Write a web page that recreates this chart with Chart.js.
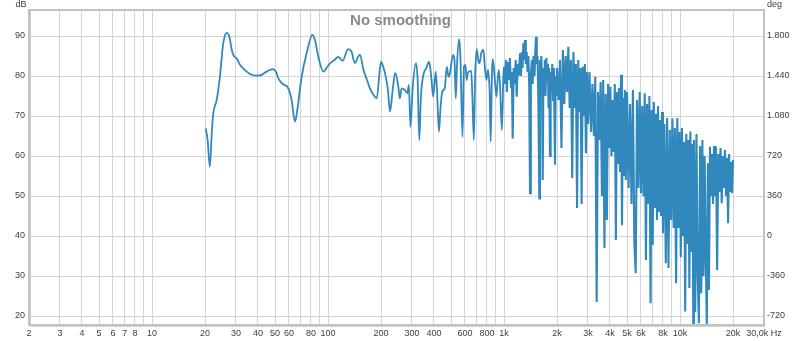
<!DOCTYPE html>
<html>
<head>
<meta charset="utf-8">
<script src="https://cdn.jsdelivr.net/npm/chart.js@4.4.1/dist/chart.umd.min.js"></script>
<style>
  html, body { margin: 0; padding: 0; background: #fff; }
  #wrap { width: 800px; height: 341px; }
</style>
</head>
<body>
<div id="wrap"><canvas id="fr-chart"></canvas></div>
<script>
// 20 Hz - 1 kHz, the smooth part of the response
let lowFreq = [
  20.2, 20.7, 21.3, 21.9, 22.3, 23.3, 24.3, 25.4, 26.6, 27.5,
  28.4, 29.0, 30.3, 31.6, 33.7, 36.0, 39.3, 42.0, 44.8, 48.5,
  50.6, 52.2, 55.3, 59.5, 62.1, 64.9, 66.9, 70.8, 75.6, 81.5,
  84.3, 88.1, 94.1, 99.1, 103, 110, 114, 121, 130, 136,
  142, 148, 152, 159, 166, 173, 181, 189, 200, 206,
  213, 219, 225, 233, 241, 251, 256, 262, 273, 282,
  288, 294, 303, 316, 323, 330, 337, 350, 361, 375,
  386, 396, 409, 416, 427, 436, 446, 460, 473, 484,
  493, 513, 523, 532, 541, 556, 565, 581, 592, 604,
  613, 622, 634, 651, 661, 674, 685, 700, 713, 726,
  742, 764, 778, 795, 811, 828, 840, 855, 864, 884,
  905, 920, 934, 950, 972, 990
];
let lowDb = [
  66.9, 64, 57.3, 66.5, 70.7, 74, 79.8, 88.2, 90.8, 89.8,
  86.5, 85.2, 84.4, 82.8, 81.5, 80.5, 80.1, 80.3, 81.1, 81.7,
  81.1, 79.4, 78, 76.9, 74, 68.6, 71.5, 79.8, 85.7, 90.3,
  89, 84.8, 81.1, 82.3, 83.2, 84.2, 84.8, 83.8, 86.7, 86.1,
  83.2, 84.8, 85.3, 81.5, 79.2, 76.9, 75.3, 74.4, 83.6, 82.3,
  79.8, 76.5, 71.1, 76.5, 80.8, 77.3, 74.4, 76.9, 76.5, 75.7,
  77.8, 67.3, 77.3, 83.2, 79, 64, 74.8, 80.7, 81.9, 83.6,
  79.8, 74.8, 81.1, 76.5, 66.1, 72.3, 76.1, 76.9, 82.3, 79.8,
  80.7, 85.3, 84, 74.4, 83.2, 89.2, 84.8, 64.8, 82.3, 82.8,
  79, 80.7, 81.1, 81.3, 74.8, 64, 79.8, 86.7, 84, 83.2,
  85.7, 86.5, 82.3, 79, 81.5, 76.5, 63.6, 81.5, 84.2, 79.8,
  74.8, 79, 81.5, 77.3, 66.5, 79
];

// 1 kHz - 2 kHz
let midFreq = [
  1000, 1012, 1025, 1038, 1050, 1065, 1080, 1095, 1108, 1120,
  1135, 1150, 1165, 1181, 1195, 1210, 1233, 1248, 1262, 1275,
  1287, 1300, 1316, 1330, 1345, 1360, 1375, 1390, 1405, 1420,
  1440, 1455, 1470, 1490, 1505, 1520, 1535, 1550, 1565, 1587,
  1600, 1615, 1630, 1645, 1659, 1675, 1690, 1705, 1720, 1740,
  1755, 1775, 1790, 1805, 1825, 1840, 1860, 1880, 1900, 1920,
  1948, 1965, 1985
];
let midDb = [
  82.3, 78, 84, 76, 83.5, 79, 84.5, 77, 81, 64.4,
  82, 78, 84, 74.8, 83, 80, 85.7, 80, 86, 82,
  88.2, 84, 89, 83, 86, 81, 85, 78, 50.7, 80,
  84, 78, 85, 80, 86, 89.8, 83, 85, 76, 49.4,
  84, 79, 85, 77, 54, 82, 78, 84, 75, 84.5,
  79, 83, 72, 82, 60, 81, 76, 83, 74, 82,
  57.8, 80, 75
];

// 2 kHz - 20 kHz, dense comb
let highFreq = [
  2000, 2040, 2080, 2120, 2160, 2200, 2240, 2280, 2320, 2360,
  2400, 2440, 2480, 2520, 2560, 2600, 2640, 2680, 2720, 2760,
  2800, 2840, 2880, 2920, 2960,
  3000, 3060, 3120, 3180, 3240, 3300, 3360, 3420, 3480, 3540,
  3600, 3660, 3720, 3780, 3840, 3900, 3960, 4020, 4080, 4140,
  4200, 4260, 4320, 4380, 4440, 4500, 4560, 4620, 4680, 4740,
  4800, 4860, 4920,
  5000, 5100, 5200, 5300, 5400, 5500, 5600, 5700, 5800, 5900,
  6000, 6100, 6200, 6300, 6400, 6500, 6600, 6700, 6800, 6900,
  7000, 7100, 7200, 7300, 7400, 7500, 7600, 7700, 7800, 7900,
  8000, 8150, 8300, 8450, 8600, 8750, 8900, 9050, 9200, 9350,
  9500, 9650, 9800, 9950, 10100, 10250, 10400, 10550, 10700, 10850,
  11000, 11150, 11300, 11450, 11600, 11750, 11900,
  12000, 12200, 12400, 12600, 12800, 13000, 13200, 13400, 13600, 13800,
  14000, 14200, 14400, 14600, 14800, 15000, 15200, 15400, 15600, 15800,
  16000, 16250, 16500, 16750, 17000, 17250, 17500, 17750, 18000, 18250,
  18500, 18750, 19000, 19250, 19500, 19750, 20000
];
let highDb = [
  82, 74, 84, 62, 86.5, 73, 85, 76, 87.3, 72,
  84, 54.5, 86, 72, 83, 47, 84, 71, 82, 48,
  82.3, 70, 83, 60.7, 81,
  68, 81, 66, 78, 65, 79.8, 23.5, 76, 64, 78.5,
  50, 79, 37, 75.5, 44, 78, 62, 77.3, 60, 74,
  61, 78, 39, 76, 58, 77, 56, 80.3, 42.7, 74.5,
  55, 76.5, 54,
  76, 52, 73, 48, 76.5, 38.6, 30.7, 74, 52, 76,
  50.7, 72.5, 50, 75.7, 34, 73, 48, 75, 23.2, 71.5,
  37.75, 73.5, 47, 70.5, 44, 72.5, 46, 69, 45, 71,
  40.7, 68, 33.2, 69.5, 32, 66.5, 44, 69.4, 42, 67,
  28.2, 69.5, 42, 66, 34.7, 67, 40, 63.5, 21.1, 65.5,
  38, 64, 27, 66.1, 36, 63, 17.5,
  64, 21, 65.5, 30, 18.2, 62.5, 25.7, 64, 30, 60,
  35, 17.5, 58.2, 26.5, 62.3, 50, 60.5, 48, 62.5, 50,
  62.3, 31.5, 60.5, 51, 62, 48.2, 60, 52, 61.5, 50,
  59.5, 43.2, 60.5, 51, 58.5, 50.7, 59
];

// axis ticks
let gridFreqs = [
  2, 3, 4, 5, 6, 7, 8, 9, 10,
  20, 30, 40, 50, 60, 70, 80, 90, 100,
  200, 300, 400, 500, 600, 700, 800, 900, 1000,
  2000, 3000, 4000, 5000, 6000, 7000, 8000, 9000, 10000,
  20000, 30000
];
let freqLabels = [
  "2", "3", "4", "5", "6", "7", "8", "", "10",
  "20", "30", "40", "50", "60", "", "80", "", "100",
  "200", "300", "400", "", "600", "", "800", "", "1k",
  "2k", "3k", "4k", "5k", "6k", "", "8k", "", "10k",
  "20k", "30,0k Hz"
];
let dbTicks = [20, 30, 40, 50, 60, 70, 80, 90];
let degTicks = [-720, -360, 0, 360, 720, 1080, 1440, 1800];
let degLabels = ["-720", "-360", "0", "360", "720", "1.080", "1.440", "1.800"];

let toPoints = (fs, ds) => fs.map((f, i) => ({ x: f, y: ds[i] }));
let lowPoints = toPoints(lowFreq, lowDb);
// the comb part starts at the last smooth point so the trace stays joined
let combPoints = [lowPoints[lowPoints.length - 1]]
  .concat(toPoints(midFreq, midDb), toPoints(highFreq, highDb));

let traceColor = "#3088bd";
let tickFont = { family: "'Liberation Sans', Arial, sans-serif", size: 9 };
let gridColor = "#d6d4d9";

// frame, title and unit captions
let decorations = {
  id: "decorations",
  afterDraw(chart) {
    let c = chart.ctx;
    let a = chart.chartArea;
    c.save();
    c.strokeStyle = "#c2c2c2";
    c.lineWidth = 2;
    c.strokeRect(a.left, a.top, a.right - a.left, a.bottom - a.top);
    c.fillStyle = "#d0d0d0";
    c.fillRect(a.left + 1, a.top + 1, 1, a.bottom - a.top);
    c.fillRect(a.left + 1, a.bottom + 1, a.right - a.left, 1);

    c.fillStyle = "#8a8a8a";
    c.font = "bold 15px 'Liberation Sans', Arial, sans-serif";
    c.textAlign = "center";
    c.textBaseline = "alphabetic";
    c.fillText("No smoothing", 400.5, 25);

    c.fillStyle = "#3c3c3c";
    c.font = "9px 'Liberation Sans', Arial, sans-serif";
    c.textAlign = "center";
    c.fillText("dB", 21, 7);
    c.textAlign = "left";
    c.fillText("deg", 767, 7);
    c.restore();
  }
};

let ctx = document.getElementById("fr-chart").getContext("2d");
let frChart = new Chart(ctx, {
  type: "line",
  data: {
    datasets: [
      {
        label: "SPL",
        data: lowPoints,
        borderColor: traceColor,
        borderWidth: 1.8,
        pointRadius: 0,
        cubicInterpolationMode: "monotone",
        fill: false,
        yAxisID: "y"
      },
      {
        label: "SPL comb",
        data: combPoints,
        borderColor: traceColor,
        borderWidth: 2.1,
        pointRadius: 0,
        tension: 0,
        fill: false,
        yAxisID: "y"
      }
    ]
  },
  options: {
    responsive: true,
    maintainAspectRatio: false,
    animation: false,
    events: [],
    layout: { padding: { top: 10, left: 0, right: 0, bottom: 0 } },
    plugins: {
      legend: { display: false },
      tooltip: { enabled: false }
    },
    scales: {
      x: {
        type: "logarithmic",
        min: 2,
        max: 30000,
        afterBuildTicks: (scale) => { scale.ticks = gridFreqs.map(v => ({ value: v })); },
        afterFit: (scale) => { scale.height = 16; },
        grid: { color: gridColor, lineWidth: 1, drawTicks: false },
        border: { display: false },
        ticks: {
          autoSkip: false,
          maxRotation: 0,
          minRotation: 0,
          padding: 3,
          color: "#3c3c3c",
          font: tickFont,
          callback: (value, index) => freqLabels[index]
        }
      },
      y: {
        type: "linear",
        position: "left",
        min: 17.75,
        max: 96.5,
        afterBuildTicks: (scale) => { scale.ticks = dbTicks.map(v => ({ value: v })); },
        afterFit: (scale) => { scale.width = 29; },
        grid: { color: gridColor, lineWidth: 1, drawTicks: false },
        border: { display: false },
        ticks: {
          padding: 4,
          color: "#3c3c3c",
          font: tickFont,
          callback: (value) => String(value)
        }
      },
      y2: {
        type: "linear",
        position: "right",
        min: -801,
        max: 2034,
        afterBuildTicks: (scale) => { scale.ticks = degTicks.map(v => ({ value: v })); },
        afterFit: (scale) => { scale.width = 36; },
        grid: { display: false, drawTicks: false },
        border: { display: false },
        ticks: {
          padding: 3,
          color: "#3c3c3c",
          font: tickFont,
          callback: (value, index) => degLabels[index]
        }
      }
    }
  },
  plugins: [decorations]
});
</script>
</body>
</html>
